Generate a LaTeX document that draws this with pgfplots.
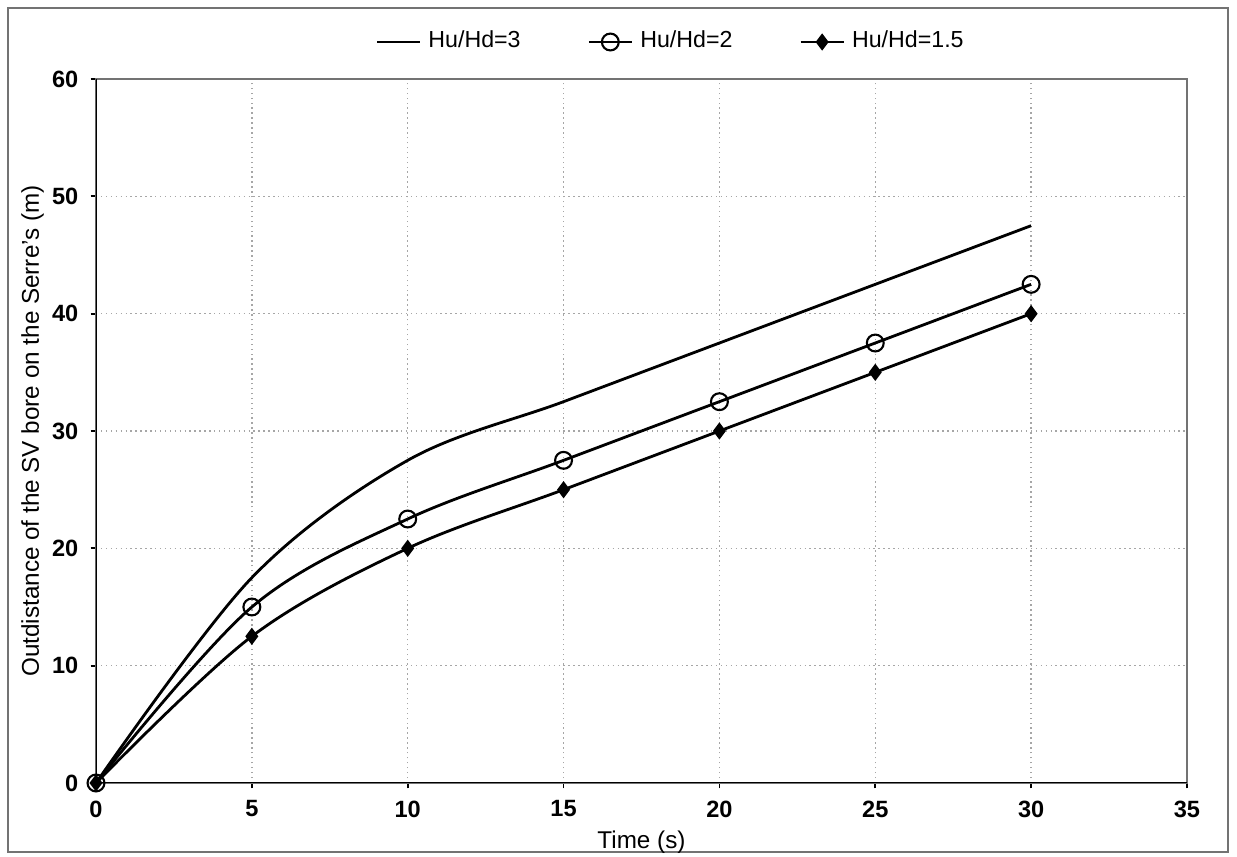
\documentclass[border=0pt]{standalone}
\usepackage{pgfplots}
\pgfplotsset{compat=1.18}
\usepackage{fontspec}
\setmainfont{Liberation Sans}
\begin{document}
\begin{tikzpicture}
\useasboundingbox (-9.6mm,-7.4mm) rectangle (114.1mm,78.3mm);
\draw[line width=0.5pt, black!55] (-8.8mm,-6.9mm) rectangle (113.2mm,77.5mm);
\begin{axis}[
  at={(0,0)}, anchor=south west,
  scale only axis,
  width=109.1mm, height=70.4mm,
  xmin=0, xmax=35, ymin=0, ymax=60,
  xtick={0,5,...,35}, ytick={0,10,...,60},
  grid=major,
  major grid style={densely dotted, gray!70, line width=0.4pt},
  axis line style={black!55, line width=0.6pt},
  tick style={black, line width=0.5pt},
  tick align=outside,
  major tick length=1.5pt,
  xtick pos=left, ytick pos=left,
  /pgf/number format/assume math mode=true,
  tick label style={font=\fontsize{6.7}{8}\selectfont\bfseries},
  xlabel={Time (s)},
  ylabel={Outdistance of the SV bore on the Serre's (m)},
  label style={font=\fontsize{6.9}{8}\selectfont},
  xlabel style={yshift=3pt},
  ylabel style={yshift=-4.5pt},
  legend style={at={(0.529,1.0526)}, anchor=center, draw=none, fill=none,
    legend columns=-1, font=\fontsize{6.6}{8}\selectfont,
    /tikz/every even column/.append style={column sep=17pt}},
  legend image code/.code={
    \draw[mark repeat=2,mark phase=2] plot coordinates {(0cm,0cm) (0.215cm,0cm) (0.43cm,0cm)};},
]
\draw[black, line width=0.7pt] (axis cs:0,60) -- (axis cs:0,0) -- (axis cs:35,0);
\addplot[black, line width=0.8pt, smooth, tension=0.55] coordinates {
(0,0) (5,17.5) (10,27.5) (15,32.5) (20,37.5) (25,42.5) (30,47.5)};
\addlegendentry{Hu/Hd=3}
\addplot[black, line width=0.8pt, smooth, tension=0.55, mark=o, mark size=2.4pt, mark options={line width=0.6pt, fill=white}] coordinates {
(0,0) (5,15) (10,22.5) (15,27.5) (20,32.5) (25,37.5) (30,42.5)};
\addlegendentry{Hu/Hd=2}
\addplot[black, line width=0.8pt, smooth, tension=0.55, mark=diamond*, mark size=1.8pt] coordinates {
(0,0) (5,12.5) (10,20) (15,25) (20,30) (25,35) (30,40)};
\addlegendentry{Hu/Hd=1.5}
\end{axis}
\end{tikzpicture}
\end{document}
